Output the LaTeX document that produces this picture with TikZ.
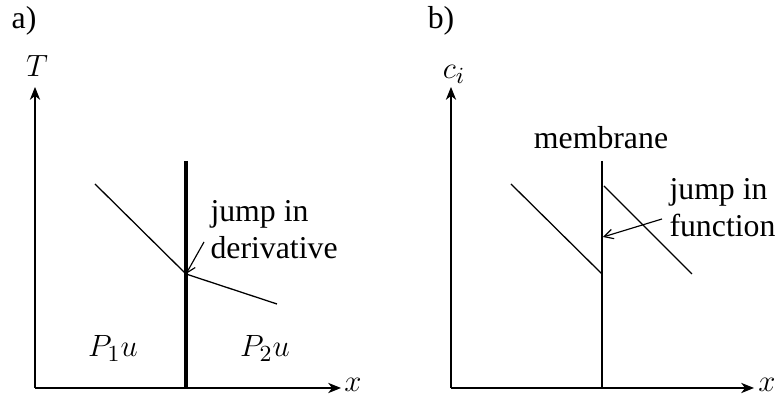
\documentclass[tikz,border=0pt]{standalone}
\usepackage{fontspec}
\setmainfont{Liberation Serif}
\usetikzlibrary{arrows.meta}
\begin{document}
\begin{tikzpicture}[x=0.39pt,y=-0.39pt,
  axis/.style={line width=0.45pt,-{Stealth[length=5pt,width=4pt,inset=1.5pt]}},
  curve/.style={line width=0.5pt},
  wall/.style={line width=1.4pt},
  membr/.style={line width=0.9pt},
  pointer/.style={line width=0.45pt,-{Straight Barb[length=3.5pt,width=3.8pt]}},
  lbl/.style={inner sep=0pt,font=\fontsize{12.4}{14}\selectfont},
  txt/.style={inner sep=0pt,font=\fontsize{12.4}{14.5}\selectfont,align=left}]
\useasboundingbox (0,0) rectangle (777,396);
% ---------- panel a ----------
\node[lbl,anchor=base] (la) at (24,29) {a)};
\coordinate (oa) at (35,388);
\coordinate (ya) at (35,87);
\coordinate (xa) at (341,388);
\draw[axis] (oa) -- (ya);
\draw[axis] (oa) -- (xa);
\node[lbl,anchor=base] (Ta) at (37,77) {$T$};
\node[lbl,anchor=base] (xla) at (353,392) {$x$};
\coordinate (wta) at (186,161);
\coordinate (wba) at (186,388);
\draw[wall] (wta) -- (wba);
\coordinate (a1) at (95,184);
\coordinate (a2) at (186,274);
\coordinate (a3) at (277,304);
\draw[curve] (a1) -- (a2) -- (a3);
\node[txt,anchor=base west] (ja) at (210,259) {jump in\\derivative};
\coordinate (pa) at (204,242);
\draw[pointer] (pa) -- (a2);
\node[lbl,anchor=base] (P1a) at (113,357) {$P_1u$};
\node[lbl,anchor=base] (P2a) at (265,357) {$P_2u$};
% ---------- panel b ----------
\node[lbl,anchor=base] (lb) at (441,29) {b)};
\coordinate (ob) at (451,388);
\coordinate (yb) at (451,87);
\coordinate (xb) at (754,388);
\draw[axis] (ob) -- (yb);
\draw[axis] (ob) -- (xb);
\node[lbl,anchor=base] (cb) at (454,79) {$c_i$};
\node[lbl,anchor=base] (xlb) at (767,392) {$x$};
\coordinate (wtb) at (602,161);
\coordinate (wbb) at (602,388);
\draw[membr] (wtb) -- (wbb);
\node[lbl,anchor=base] (mem) at (601,149) {membrane};
\coordinate (b1) at (511,184);
\coordinate (b2) at (602,274);
\coordinate (b3) at (604,186);
\coordinate (b4) at (692,274);
\draw[curve] (b1) -- (b2);
\draw[curve] (b3) -- (b4);
\node[txt,anchor=base west] (jb) at (669,237) {jump in\\function};
\coordinate (pb) at (662,219);
\coordinate (tb) at (603,237);
\draw[pointer] (pb) -- (tb);
\end{tikzpicture}
\end{document}
